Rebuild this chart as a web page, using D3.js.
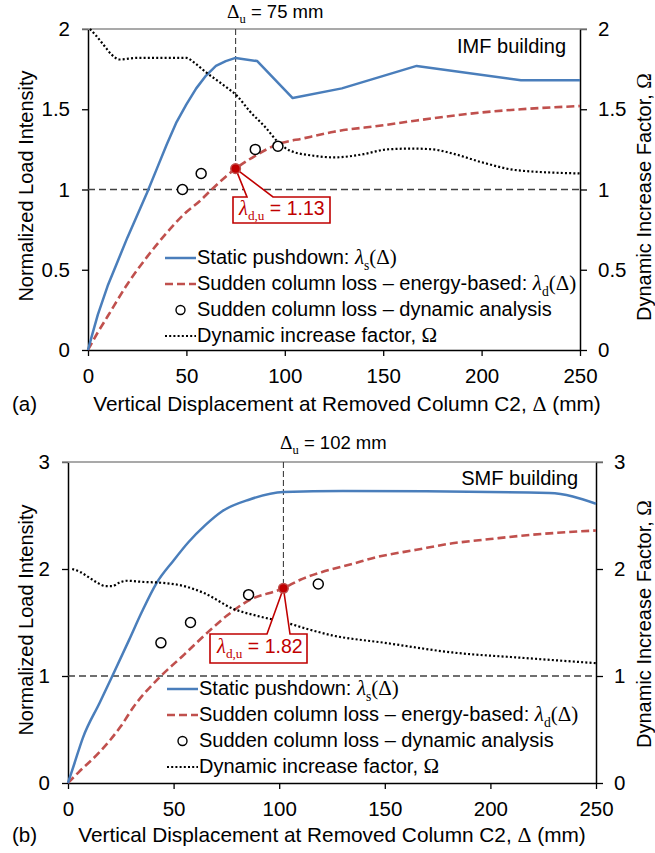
<!DOCTYPE html>
<html><head><meta charset="utf-8">
<script src="https://cdn.jsdelivr.net/npm/d3@7"></script>
<style>
body{margin:0;background:#fff}
svg{display:block}
text{font-family:"Liberation Sans",Arial,sans-serif;fill:#000}
</style>
</head><body>
<svg id="c" width="655" height="853"></svg>
<script>
// ---------- data ----------
const xTicks = [0, 50, 100, 150, 200, 250];
const imfYTicks = [0, 0.5, 1, 1.5, 2];
const smfYTicks = [0, 1, 2, 3];

// IMF building (a)
const imfStatic = [[0,0],[2,0.09],[5,0.22],[10,0.4],[15,0.55],[20,0.7],[25,0.84],[30,0.98],[35,1.13],[40,1.28],[45,1.42],[50,1.53],[55,1.63],[60,1.71],[65,1.77],[70,1.80],[75,1.82],[86,1.80],[104,1.57],[129,1.63],[167,1.77],[220,1.68],[250,1.68]];
const imfEnergy = [[0,0],[5,0.11],[10,0.21],[20,0.41],[30,0.58],[40,0.73],[50,0.86],[57,0.93],[62,0.99],[75,1.13],[85,1.21],[96,1.28],[110,1.32],[125,1.36],[150,1.40],[167,1.43],[200,1.48],[220,1.50],[250,1.52]];
const imfDynamic = [[48,1.0],[57.5,1.1],[85,1.25],[96.5,1.27]];
const imfOmega = [[1,2.0],[4,1.96],[8,1.9],[12,1.84],[16,1.81],[25,1.82],[35,1.82],[50,1.82],[54,1.79],[60,1.73],[70,1.64],[76,1.58],[82,1.49],[90,1.39],[97,1.29],[103,1.24],[115,1.21],[125,1.20],[140,1.22],[152,1.25],[165,1.255],[175,1.25],[185,1.225],[200,1.17],[218,1.12],[250,1.10]];
const imfUltimate = [75, 1.13];

// SMF building (b)
const smfStatic = [[0,0],[3,0.18],[7,0.42],[15,0.75],[21,1.0],[29,1.34],[35,1.6],[42,1.87],[50,2.08],[57,2.25],[65,2.41],[73,2.54],[86,2.65],[102,2.72],[130,2.73],[228,2.71],[250,2.61]];
const smfEnergy = [[0,0],[5,0.1],[15,0.29],[25,0.53],[31,0.71],[44,1.0],[55,1.2],[63,1.35],[75,1.56],[85,1.70],[102,1.82],[110,1.9],[120,1.97],[135,2.05],[146,2.11],[165,2.18],[182,2.24],[200,2.28],[214,2.31],[250,2.36]];
const smfDynamic = [[44,1.31],[58,1.5],[85.5,1.76],[118.5,1.86]];
const smfOmega = [[2,2.0],[6,1.97],[10,1.92],[14,1.87],[18,1.84],[21,1.84],[24,1.87],[28,1.89],[35,1.88],[45,1.87],[55,1.84],[65,1.77],[78,1.63],[90,1.56],[103,1.50],[115,1.43],[125,1.38],[150,1.31],[182,1.22],[215,1.17],[250,1.12]];
const smfUltimate = [102, 1.82];

const legendLabels = [
  [["Static pushdown: ",""],["λ","i"],["s","sub"],["(Δ)","s"]],
  [["Sudden column loss – energy-based: ",""],["λ","i"],["d","sub"],["(Δ)","s"]],
  [["Sudden column loss – dynamic analysis",""]],
  [["Dynamic increase factor, ",""],["Ω","s"]]
];

// ---------- styles / layout ----------
const BLUE = "#4a7ebb", RED = "#c0504d", DRED = "#c00000";
const SERIF = "'Liberation Serif','Times New Roman',serif";

const panels = [
  {tag:"(a)", name:"IMF building", unit:"75 mm", left:88, right:580, top:29, bottom:350, yMax:2, yTicks:imfYTicks,
   st:imfStatic, en:imfEnergy, dyn:imfDynamic, om:imfOmega, ult:imfUltimate, stCurve:d3.curveLinear,
   duX:227, duY:18, nameY:53, nameX:566, xTitleX:347, xTitleY:411, tagY:411, lTitleY:186, rTitleY:197,
   box:[233,197,330,223,247,273], boxTextX:239, boxTextY:215,
   legX:165, legY:264},
  {tag:"(b)", name:"SMF building", unit:"102 mm", left:68, right:596, top:462, bottom:783, yMax:3, yTicks:smfYTicks,
   st:smfStatic, en:smfEnergy, dyn:smfDynamic, om:smfOmega, ult:smfUltimate, stCurve:d3.curveMonotoneX,
   duX:280, duY:449, nameY:485, nameX:578, xTitleX:332, xTitleY:842, tagY:842, lTitleY:620, rTitleY:624,
   box:[210,634,307,663,267,290], boxTextX:217, boxTextY:653,
   legX:167, legY:695}
];

const svg = d3.select("#c");

function rich(t, parts, size){
  let shift = 0;
  parts.forEach(([txt, st]) => {
    const ts = t.append("tspan").text(txt);
    if (st === "i") ts.attr("font-family", SERIF).attr("font-style","italic").attr("font-size", size*1.05);
    if (st === "s") ts.attr("font-family", SERIF).attr("font-size", size*1.05);
    if (st === "sub") {
      ts.attr("font-family", SERIF).attr("font-size", size*0.68).attr("dy", size*0.28);
      shift = size*0.28;
    } else if (shift) { ts.attr("dy", -shift); shift = 0; }
  });
}

panels.forEach(p => {
  const g = svg.append("g");
  const x = d3.scaleLinear().domain([0,250]).range([p.left, p.right]);
  const y = d3.scaleLinear().domain([0,p.yMax]).range([p.bottom, p.top]);
  const fs = 20;

  // axes
  const ax = g.append("g").attr("transform",`translate(0,${p.bottom})`)
    .call(d3.axisBottom(x).tickValues(xTicks).tickSize(6).tickSizeOuter(0).tickPadding(12));
  const ay = g.append("g").attr("transform",`translate(${p.left},0)`)
    .call(d3.axisLeft(y).tickValues(p.yTicks).tickSize(6).tickSizeOuter(0).tickPadding(12).tickFormat(d=>String(d)));
  const ay2 = g.append("g").attr("transform",`translate(${p.right},0)`)
    .call(d3.axisRight(y).tickValues(p.yTicks).tickSize(7).tickSizeOuter(0).tickPadding(11).tickFormat(d=>String(d)));
  [ax, ay, ay2].forEach(a => {
    a.select(".domain").attr("stroke","#000").attr("stroke-width",1.5);
    a.selectAll(".tick line").attr("stroke","#000").attr("stroke-width",1.3);
    a.selectAll(".tick text").attr("font-size",20.5).attr("font-family","'Liberation Sans',Arial,sans-serif").attr("fill","#000");
  });
  // top border (gray)
  g.append("line").attr("x1",p.left-6).attr("x2",p.right+7).attr("y1",p.top).attr("y2",p.top)
    .attr("stroke","#8c8c8c").attr("stroke-width",1.5);

  // reference lines
  g.append("line").attr("x1",p.left).attr("x2",p.right).attr("y1",y(1)).attr("y2",y(1))
    .attr("stroke","#404040").attr("stroke-width",1.3).attr("stroke-dasharray","7,4");
  g.append("line").attr("x1",x(p.ult[0])).attr("x2",x(p.ult[0])).attr("y1",p.top).attr("y2",y(p.ult[1]))
    .attr("stroke","#404040").attr("stroke-width",1.1).attr("stroke-dasharray","6,3");

  const smooth = d3.line().x(d=>x(d[0])).y(d=>y(d[1])).curve(d3.curveMonotoneX);
  const stLine = d3.line().x(d=>x(d[0])).y(d=>y(d[1])).curve(p.stCurve);
  g.append("path").datum(p.en).attr("d",smooth).attr("fill","none").attr("stroke",RED)
    .attr("stroke-width",2.6).attr("stroke-dasharray","8,4");
  g.append("path").datum(p.st).attr("d",stLine).attr("fill","none").attr("stroke",BLUE).attr("stroke-width",2.5)
    .attr("stroke-linejoin","round");
  g.append("path").datum(p.om).attr("d",smooth).attr("fill","none").attr("stroke","#000")
    .attr("stroke-width",2.2).attr("stroke-dasharray","2,2.2");
  g.selectAll("circle.dyn").data(p.dyn).enter().append("circle").attr("class","dyn")
    .attr("cx",d=>x(d[0])).attr("cy",d=>y(d[1])).attr("r",5)
    .attr("fill","#fff").attr("stroke","#000").attr("stroke-width",1.5);

  // callout
  const [bx0,by0,bx1,by1,pb0,pb1] = p.box;
  const ux = x(p.ult[0]), uy = y(p.ult[1]);
  g.append("path").attr("d",`M${bx0},${by0}L${pb0},${by0}L${ux},${uy}L${pb1},${by0}L${bx1},${by0}L${bx1},${by1}L${bx0},${by1}Z`)
    .attr("fill","#fff").attr("stroke",DRED).attr("stroke-width",1.6).attr("stroke-linejoin","miter");
  const bt = g.append("text").attr("x",p.boxTextX).attr("y",p.boxTextY).attr("font-size",19.5).style("fill",DRED);
  rich(bt, [["λ","i"],["d,u","sub"],[" = " + p.ult[1].toFixed(2),""]], 19.5);
  bt.selectAll("tspan").style("fill",DRED);
  g.append("circle").attr("cx",ux).attr("cy",uy).attr("r",4.8).attr("fill",DRED)
    .attr("stroke",RED).attr("stroke-width",1.5);

  // Δu label
  const du = g.append("text").attr("x",p.duX).attr("y",p.duY).attr("font-size",18.5);
  rich(du, [["Δ","s"],["u","sub"],[" = " + p.unit,""]], 18.5);

  // building name
  g.append("text").attr("x",p.nameX).attr("y",p.nameY).attr("text-anchor","end").attr("font-size",fs).text(p.name);

  // titles
  const xt = g.append("text").attr("x",p.xTitleX).attr("y",p.xTitleY).attr("text-anchor","middle").attr("font-size",20.8);
  rich(xt, [["Vertical Displacement at Removed Column C2, ",""],["Δ","s"],[" (mm)",""]], 20.8);
  g.append("text").attr("x",12).attr("y",p.tagY).attr("font-size",20.5).text(p.tag);
  g.append("text").attr("transform",`translate(33,${p.lTitleY}) rotate(-90)`).attr("text-anchor","middle")
    .attr("font-size",20).text("Normalized Load Intensity");
  const rt = g.append("text").attr("transform",`translate(651,${p.rTitleY}) rotate(-90)`).attr("text-anchor","middle").attr("font-size",20);
  rich(rt, [["Dynamic Increase Factor, ",""],["Ω","s"]], 20);

  // legend
  const lg = g.append("g");
  const rowH = 26;
  legendLabels.forEach((lab, i) => {
    const by = p.legY + i*rowH, cy = by - 6;
    if (i === 0) lg.append("line").attr("x1",p.legX).attr("x2",p.legX+31).attr("y1",cy).attr("y2",cy).attr("stroke",BLUE).attr("stroke-width",2.5);
    if (i === 1) lg.append("line").attr("x1",p.legX).attr("x2",p.legX+31).attr("y1",cy).attr("y2",cy).attr("stroke",RED).attr("stroke-width",2.6).attr("stroke-dasharray","8,4");
    if (i === 2) lg.append("circle").attr("cx",p.legX+15.5).attr("cy",cy).attr("r",4.5).attr("fill","#fff").attr("stroke","#000").attr("stroke-width",1.4);
    if (i === 3) lg.append("line").attr("x1",p.legX).attr("x2",p.legX+31).attr("y1",cy).attr("y2",cy).attr("stroke","#000").attr("stroke-width",2).attr("stroke-dasharray","2,2.2");
    const t = lg.append("text").attr("x",p.legX+32).attr("y",by).attr("font-size",fs);
    rich(t, lab, fs);
  });
});
</script>
</body></html>
